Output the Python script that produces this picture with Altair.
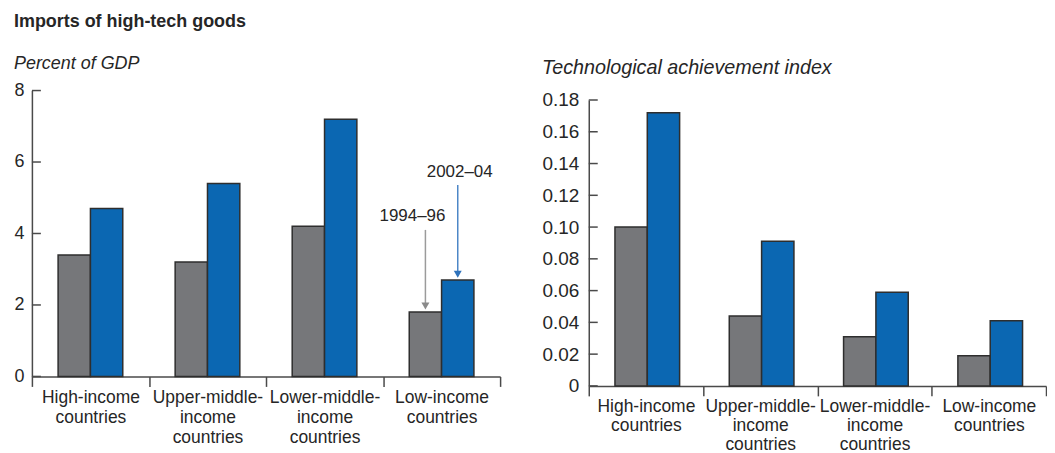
import altair as alt
import pandas as pd

# ---------------- data ----------------
categories = ["High-income|countries", "Upper-middle-|income|countries",
              "Lower-middle-|income|countries", "Low-income|countries"]
periods = ["1994–96", "2002–04"]

imports_1994_96 = [3.4, 3.2, 4.2, 1.8]
imports_2002_04 = [4.7, 5.4, 7.2, 2.7]

tai_1994_96 = [0.100, 0.044, 0.031, 0.019]
tai_2002_04 = [0.172, 0.091, 0.059, 0.041]

imports_ticks = [0, 2, 4, 6, 8]
tai_ticks = [0, 0.02, 0.04, 0.06, 0.08, 0.10, 0.12, 0.14, 0.16, 0.18]

# annotation arrows in the left panel (data units of the left y scale)
ann_category = "Low-income|countries"
ann_label_y = [4.5, 5.72]
ann_line_top = [4.1, 5.36]
ann_line_bottom = [2.05, 2.95]
ann_head_y = [1.97, 2.86]

# ---------------- style ----------------
FONT = "Liberation Sans"
TEXT = "#262626"
AXIS = "#4a4a4a"
GRAY = "#76777a"
BLUE = "#0b67b2"
STROKE = "#2e2e2e"
ARROW_COLORS = ["#9b9b9b", "#4d87c7"]
HEAD_COLORS = ["#8a8a8a", "#2f72bb"]
TEXT_DX = [-13, 2]


def make_df(a, b):
    rows = []
    for c, v in zip(categories, a):
        rows.append({"category": c, "period": periods[0], "value": v})
    for c, v in zip(categories, b):
        rows.append({"category": c, "period": periods[1], "value": v})
    return pd.DataFrame(rows)


def x_axis(line_height):
    return alt.Axis(labelAngle=0, tickBand="extent",
                    labelExpr="split(datum.label, '|')",
                    tickSize=10, labelPadding=2, labelLineHeight=line_height,
                    labelFontSize=17.5, labelOverlap=False, labelBaseline="top")


def y_axis(values, size, pad, expr):
    return alt.Axis(values=values, ticks=False, grid=False, labelPadding=pad,
                    labelFontSize=size, labelOverlap=False, labelExpr=expr)


def panel(df, width, height, yscale, yaxis, xaxis, offset_pad, title, extra=None):
    xscale = alt.Scale(paddingInner=0, paddingOuter=0)
    offscale = alt.Scale(domain=periods, paddingInner=0, paddingOuter=offset_pad)
    bars = alt.Chart(df).mark_bar(stroke=STROKE, strokeWidth=1.5).encode(
        x=alt.X("category:N", sort=categories, title=None, scale=xscale, axis=xaxis),
        xOffset=alt.XOffset("period:N", sort=periods, scale=offscale),
        y=alt.Y("value:Q", scale=yscale, title=None, axis=yaxis),
        color=alt.Color("period:N", sort=periods,
                        scale=alt.Scale(domain=periods, range=[GRAY, BLUE]),
                        legend=None),
    )
    ticks = alt.Chart(pd.DataFrame({"t": yaxis.values})).mark_rule(
        color=AXIS, strokeWidth=1.5).encode(
        y=alt.Y("t:Q", scale=yscale, title=None, axis=yaxis),
        x=alt.value(0), x2=alt.value(9))
    layers = [bars, ticks]
    if extra:
        layers += extra
    return alt.layer(*layers).properties(width=width, height=height, title=title)


# ---------------- left panel ----------------
left_yscale = alt.Scale(domain=[0, 8], nice=False, zero=True)
left_yaxis = y_axis(imports_ticks, 18, 8, "format(datum.value, 'd')")
left_xaxis = x_axis(20)

ann_layers = []
for i, p in enumerate(periods):
    adf = pd.DataFrame([{"category": ann_category, "period": p,
                         "label_y": ann_label_y[i], "top": ann_line_top[i],
                         "bottom": ann_line_bottom[i], "head": ann_head_y[i]}])
    xe = alt.X("category:N", sort=categories, title=None, axis=left_xaxis,
               scale=alt.Scale(paddingInner=0, paddingOuter=0))
    xoff = alt.XOffset("period:N", sort=periods,
                       scale=alt.Scale(domain=periods, paddingInner=0, paddingOuter=0.81))
    line = alt.Chart(adf).mark_rule(color=ARROW_COLORS[i], strokeWidth=1.5).encode(
        x=xe, xOffset=xoff,
        y=alt.Y("top:Q", scale=left_yscale, title=None, axis=left_yaxis),
        y2="bottom:Q")
    head = alt.Chart(adf).mark_point(shape="triangle-down", filled=True, size=64,
                                     opacity=1, color=HEAD_COLORS[i]).encode(
        x=xe, xOffset=xoff,
        y=alt.Y("head:Q", scale=left_yscale, title=None, axis=left_yaxis))
    txt = alt.Chart(adf).mark_text(font=FONT, fontSize=17, color=TEXT,
                                   dx=TEXT_DX[i], baseline="middle").encode(
        x=xe, xOffset=xoff,
        y=alt.Y("label_y:Q", scale=left_yscale, title=None, axis=left_yaxis),
        text="period:N")
    ann_layers += [line, head, txt]

left = panel(make_df(imports_1994_96, imports_2002_04), 470, 287,
             left_yscale, left_yaxis, left_xaxis, 0.81,
             alt.Title("Percent of GDP", anchor="start", frame="bounds",
                       fontStyle="italic", fontWeight="normal", fontSize=18,
                       font=FONT, color=TEXT, offset=9),
             extra=ann_layers)

# ---------------- right panel (plot sits ~9.5px lower) ----------------
RIGHT_H = 296.5
RIGHT_TOP = 9.5
right_yscale = alt.Scale(domain=[0, 0.18], nice=False, zero=True,
                         range=[RIGHT_H, RIGHT_TOP])
right_yaxis = y_axis(tai_ticks, 19, 10,
                     "datum.value == 0 ? '0' : format(datum.value, '.2f')")
right = panel(make_df(tai_1994_96, tai_2002_04), 459, RIGHT_H,
              right_yscale, right_yaxis, x_axis(19), 0.4,
              alt.Title("Technological achievement index", anchor="start",
                        frame="bounds", fontStyle="italic", fontWeight="normal",
                        fontSize=19.8, font=FONT, color=TEXT, offset=13))

chart = alt.concat(left, right, columns=2, spacing=41, align="none").properties(
    title=alt.Title("Imports of high-tech goods", anchor="start", frame="bounds",
                    fontSize=18, fontWeight="bold", font=FONT, color=TEXT,
                    offset=24),
    padding={"left": 5, "top": 4, "right": 0, "bottom": 0},
).configure_view(stroke=None).configure_axis(
    labelFont=FONT, labelColor=TEXT, domainColor=AXIS, domainWidth=1.5,
    tickColor=AXIS, tickWidth=1.5,
).resolve_scale(color="independent")

chart.save("out.html", embed_options={"renderer": "svg", "actions": False})
